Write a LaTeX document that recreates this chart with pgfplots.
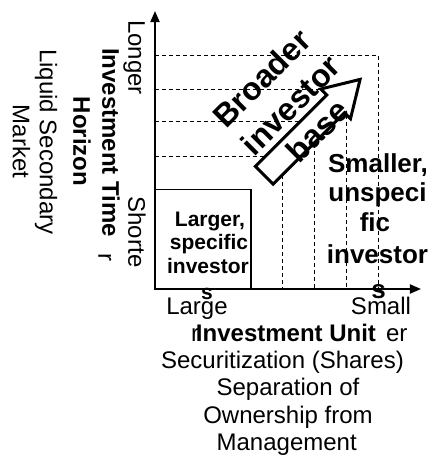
\documentclass[border=0pt]{standalone}
\usepackage{fontspec}
\setmainfont{Liberation Sans}
\usepackage{pgfplots}
\pgfplotsset{compat=1.18}
\usetikzlibrary{arrows.meta}

% font sizes (1pt = 1px of the reference)
\newcommand\fReg{\fontsize{24}{28}\selectfont}
\newcommand\fBold{\fontsize{24}{29}\selectfont\bfseries}
\newcommand\fBox{\fontsize{21}{25}\selectfont\bfseries}
\newcommand\fSmall{\fontsize{26}{30}\selectfont\bfseries}
\newcommand\fBroad{\fontsize{32}{38}\selectfont\bfseries}

\begin{document}
\begin{tikzpicture}
\begin{axis}[
  x=1pt, y=1pt,
  xmin=0, xmax=266, ymin=0, ymax=278,
  axis lines*=left,
  axis line style={line width=1.8pt, -{Triangle[length=11pt,width=9pt]}},
  ticks=none,
  clip=false,
  every node/.style={inner sep=0pt},
]
% dashed guide lines
\addplot[black, line width=1pt, dash pattern=on 4pt off 3pt] coordinates {(0,234) (223.3,234) (223.3,0)};
\addplot[black, line width=1pt, dash pattern=on 4pt off 3pt] coordinates {(0,199.7) (191.7,199.7) (191.7,0)};
\addplot[black, line width=1pt, dash pattern=on 4pt off 3pt] coordinates {(0,167.3) (160,167.3) (160,0)};
\addplot[black, line width=1pt, dash pattern=on 4pt off 3pt] coordinates {(0,133) (127.7,133) (127.7,0)};

% box of larger investors
\addplot[black, line width=1.5pt] coordinates {(0,0) (96,0) (96,99.7) (0,99.7)} -- cycle;

% hollow block arrow
\addplot[black, line width=3pt, fill=white, line join=miter] coordinates {
  (100.3,122.6) (171.7,194) (165.8,200) (205.1,209.6)
  (195.5,170.3) (189.5,176.2) (118.1,104.8)} -- cycle;

% arrow text
\node[font=\fBroad, rotate=45] at (axis cs:106.7,210.7) {Broader};
\node[font=\fBroad, rotate=45] at (axis cs:135.7,184) {investor};
\node[font=\fBroad, rotate=45] at (axis cs:162.3,158.3) {base};

% box text
\node[font=\fBox, anchor=base] at (axis cs:55,63) {Larger,};
\node[font=\fBox, anchor=base] at (axis cs:54,40) {specific};
\node[font=\fBox, anchor=base] at (axis cs:53,15.5) {investor};
\node[font=\fBox, anchor=base] at (axis cs:52,-10) {s};

% smaller investors text
\node[font=\fSmall, anchor=base] at (axis cs:223,117) {Smaller,};
\node[font=\fSmall, anchor=base] at (axis cs:222.5,87.3) {unspeci};
\node[font=\fSmall, anchor=base] at (axis cs:220,57.3) {fic};
\node[font=\fSmall, anchor=base] at (axis cs:222.5,26) {investor};
\node[font=\fSmall, anchor=base] at (axis cs:223.5,-9) {s};

% vertical axis labels
\node[font=\fReg, rotate=-90, anchor=mid] at (axis cs:-24,231.5) {Longer};
\node[font=\fReg, rotate=-90, anchor=mid] at (axis cs:-24,57) {Shorte};
\node[font=\fReg, rotate=-90, anchor=mid] at (axis cs:-54,32) {r};
\node[font=\fBold, rotate=-90, anchor=mid] at (axis cs:-50,146.5) {Investment Time};
\node[font=\fBold, rotate=-90, anchor=mid] at (axis cs:-79,147.5) {Horizon};
\node[font=\fReg, rotate=-90, anchor=mid] at (axis cs:-112.5,147) {Liquid Secondary};
\node[font=\fReg, rotate=-90, anchor=mid] at (axis cs:-139.5,147.5) {Market};

% horizontal axis labels
\node[font=\fReg, anchor=base] at (axis cs:42,-25) {Large};
\node[font=\fReg, anchor=base] at (axis cs:40,-52.7) {r};
\node[font=\fReg, anchor=base] at (axis cs:226,-25) {Small};
\node[font=\fReg, anchor=base] at (axis cs:241.7,-52.7) {er};
\node[font=\fBold, anchor=base] at (axis cs:131,-52.7) {Investment Unit};
\node[font=\fReg, anchor=base] at (axis cs:127.5,-79) {Securitization (Shares)};
\node[font=\fReg, anchor=base] at (axis cs:133,-106) {Separation of};
\node[font=\fReg, anchor=base] at (axis cs:133,-134) {Ownership from};
\node[font=\fReg, anchor=base] at (axis cs:131.7,-161) {Management};

% page frame
\path (axis cs:-155,-172) rectangle (axis cs:277,289);
\end{axis}
\end{tikzpicture}
\end{document}
